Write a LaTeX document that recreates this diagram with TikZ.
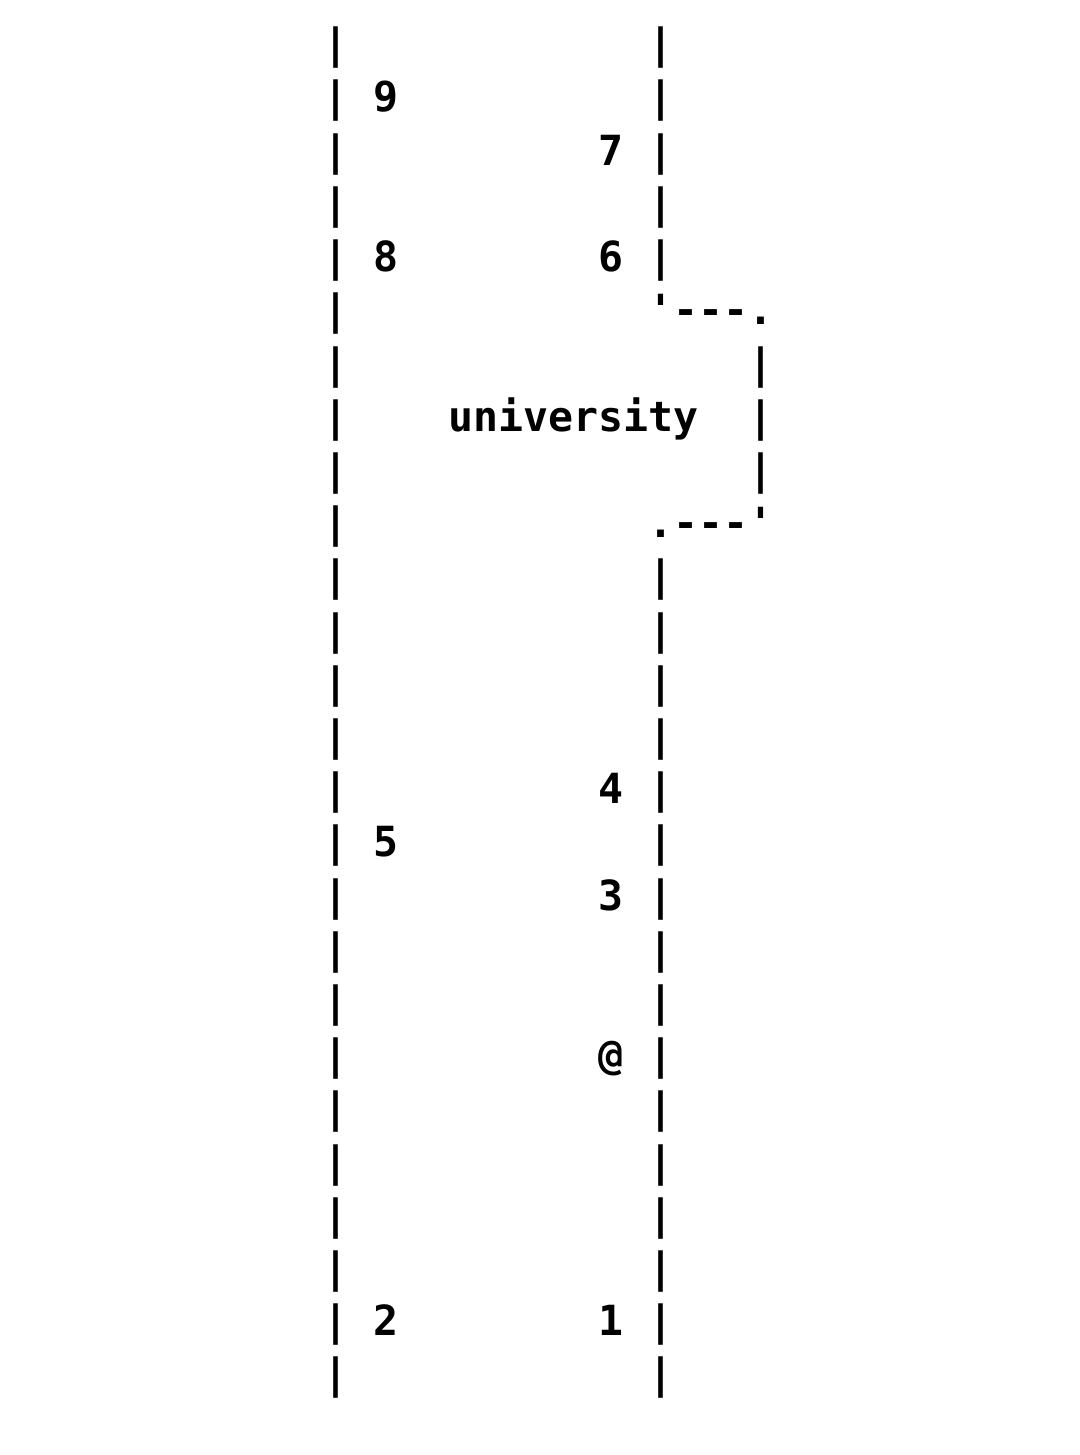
\documentclass[tikz,border=0pt]{standalone}
\usepackage{fontspec}
\setmonofont{DejaVu Sans Mono}

\tikzset{every picture/.style={line width=0.75pt}}
\tikzset{glyph/.style={anchor=base,inner sep=0pt,font=\ttfamily\bfseries\fontsize{31.15}{40}\selectfont}}

\begin{document}
\begin{tikzpicture}[x=0.75pt,y=0.75pt,yscale=-1,xscale=1]
\useasboundingbox (0,0) rectangle (1080,1455);

%Rail: left, one bar per row
\foreach \r in {-1,...,24} \draw (336,{112+53.2*(\r)}) node [glyph] (left\r) {|};
%Rail: right, above the branch
\foreach \r in {-1,...,3} \draw (661,{112+53.2*(\r)}) node [glyph] (right\r) {|};
%Rail: right, below the branch
\foreach \r in {9,...,24} \draw (661,{112+53.2*(\r)}) node [glyph] (right\r) {|};

%Branch: top edge
\draw (661,324.8) node [glyph] (branchTL) {\textquotesingle};
\foreach \c in {1,2,3} \draw ({661+25*\c},324.8) node [glyph] (branchT\c) {-};
\draw (761,324.8) node [glyph] (branchTR) {.};
%Branch: side
\foreach \r in {5,6,7} \draw (761,{112+53.2*(\r)}) node [glyph] (branch\r) {|};
%Branch: bottom edge
\draw (661,537.6) node [glyph] (branchBL) {.};
\foreach \c in {1,2,3} \draw ({661+25*\c},537.6) node [glyph] (branchB\c) {-};
\draw (761,537.6) node [glyph] (branchBR) {\textquotesingle};

% Text Node
\draw (386,112) node [glyph] (nine) {9};
% Text Node
\draw (611,165.2) node [glyph] (seven) {7};
% Text Node
\draw (386,271.6) node [glyph] (eight) {8};
% Text Node
\draw (611,271.6) node [glyph] (six) {6};
% Text Node
\draw (573.5,431.2) node [glyph] (university) {university};
% Text Node
\draw (611,803.6) node [glyph] (four) {4};
% Text Node
\draw (386,856.8) node [glyph] (five) {5};
% Text Node
\draw (611,910) node [glyph] (three) {3};
% Text Node
\draw (611,1069.6) node [glyph] (at) {@};
% Text Node
\draw (386,1335.6) node [glyph] (two) {2};
% Text Node
\draw (611,1335.6) node [glyph] (one) {1};

\end{tikzpicture}
\end{document}
